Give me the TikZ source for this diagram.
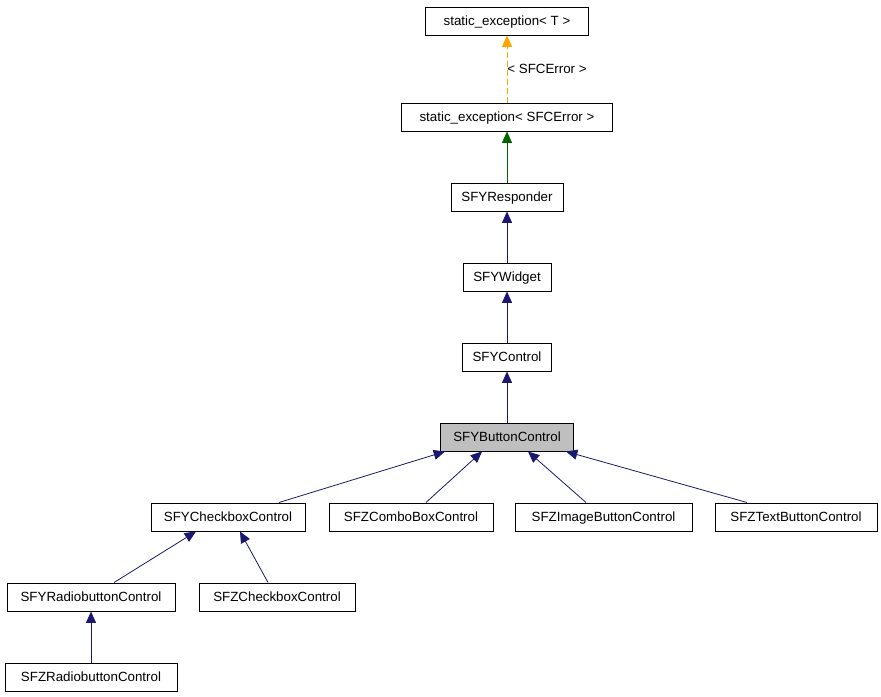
\documentclass[tikz,border=0pt]{standalone}
\usepackage{fontspec}
\setmainfont{Liberation Sans}
\usetikzlibrary{arrows.meta,calc}

\def\pxu{0.75pt}
\definecolor{navyedge}{HTML}{191970}
\definecolor{orangeedge}{HTML}{FFA500}
\definecolor{greenedge}{HTML}{006400}

\tikzset{
  cls/.style={draw,line width=\pxu,minimum height=28*\pxu,inner sep=0pt,
    text height=8pt,text depth=0.8pt,
    font=\fontsize{10}{12}\selectfont},
  inh/.style={draw=navyedge,line width=0.6pt,
    -{Triangle[length=8.5pt,width=7.5pt,fill=navyedge]}}
}

\begin{document}
\begin{tikzpicture}[x=\pxu,y=-\pxu]
\useasboundingbox (0,0) rectangle (881,696);

% classes
\node[cls,minimum width=163*\pxu] (tmpl) at (507,21) {static\_exception< T >};
\node[cls,minimum width=211*\pxu] (sfc) at (507,117) {static\_exception< SFCError >};
\node[cls,minimum width=112*\pxu] (resp) at (507,197) {SFYResponder};
\node[cls,minimum width=88*\pxu] (wdg) at (507,277) {SFYWidget};
\node[cls,minimum width=89*\pxu] (ctl) at (507,357) {SFYControl};
\node[cls,minimum width=133*\pxu,fill=black!25] (btn) at (507,437) {SFYButtonControl};

\node[cls,minimum width=154*\pxu] (chk) at (228,517) {SFYCheckboxControl};
\node[cls,minimum width=164*\pxu] (combo) at (411,517) {SFZComboBoxControl};
\node[cls,minimum width=177*\pxu] (img) at (603.5,517) {SFZImageButtonControl};
\node[cls,minimum width=162*\pxu] (txt) at (796,517) {SFZTextButtonControl};

\node[cls,minimum width=168*\pxu] (radio) at (91,597) {SFYRadiobuttonControl};
\node[cls,minimum width=156*\pxu] (zchk) at (277,597) {SFZCheckboxControl};
\node[cls,minimum width=172*\pxu] (zradio) at (91,677) {SFZRadiobuttonControl};

% template instance
\draw[orangeedge,line width=0.6pt,dash pattern=on 4.5pt off 2.2pt,
  -{Triangle[length=8.5pt,width=7.5pt,fill=orangeedge]}] (sfc) -- (tmpl)
  node[midway,anchor=west,inner sep=0pt,text=black,font=\fontsize{10}{12}\selectfont] {< SFCError >};

% inheritance
\draw[greenedge,line width=0.6pt,
  -{Triangle[length=8.5pt,width=7.5pt,fill=greenedge]}] (resp) -- (sfc);
\draw[inh] (wdg) -- (resp);
\draw[inh] (ctl) -- (wdg);
\draw[inh] (btn) -- (ctl);

\draw[inh] ($(chk.north)+(51,0)$) -- ($(btn.south)+(-62,0)$);
\draw[inh] ($(combo.north)+(15,0)$) -- ($(btn.south)+(-25,0)$);
\draw[inh] ($(img.north)+(-17.5,0)$) -- ($(btn.south)+(21,0)$);
\draw[inh] ($(txt.north)+(-49,0)$) -- ($(btn.south)+(59,0)$);

\draw[inh] ($(radio.north)+(23,0)$) -- ($(chk.south)+(-32,0)$);
\draw[inh] ($(zchk.north)+(-9,0)$) -- ($(chk.south)+(12,0)$);
\draw[inh] (zradio) -- (radio);

\end{tikzpicture}
\end{document}
